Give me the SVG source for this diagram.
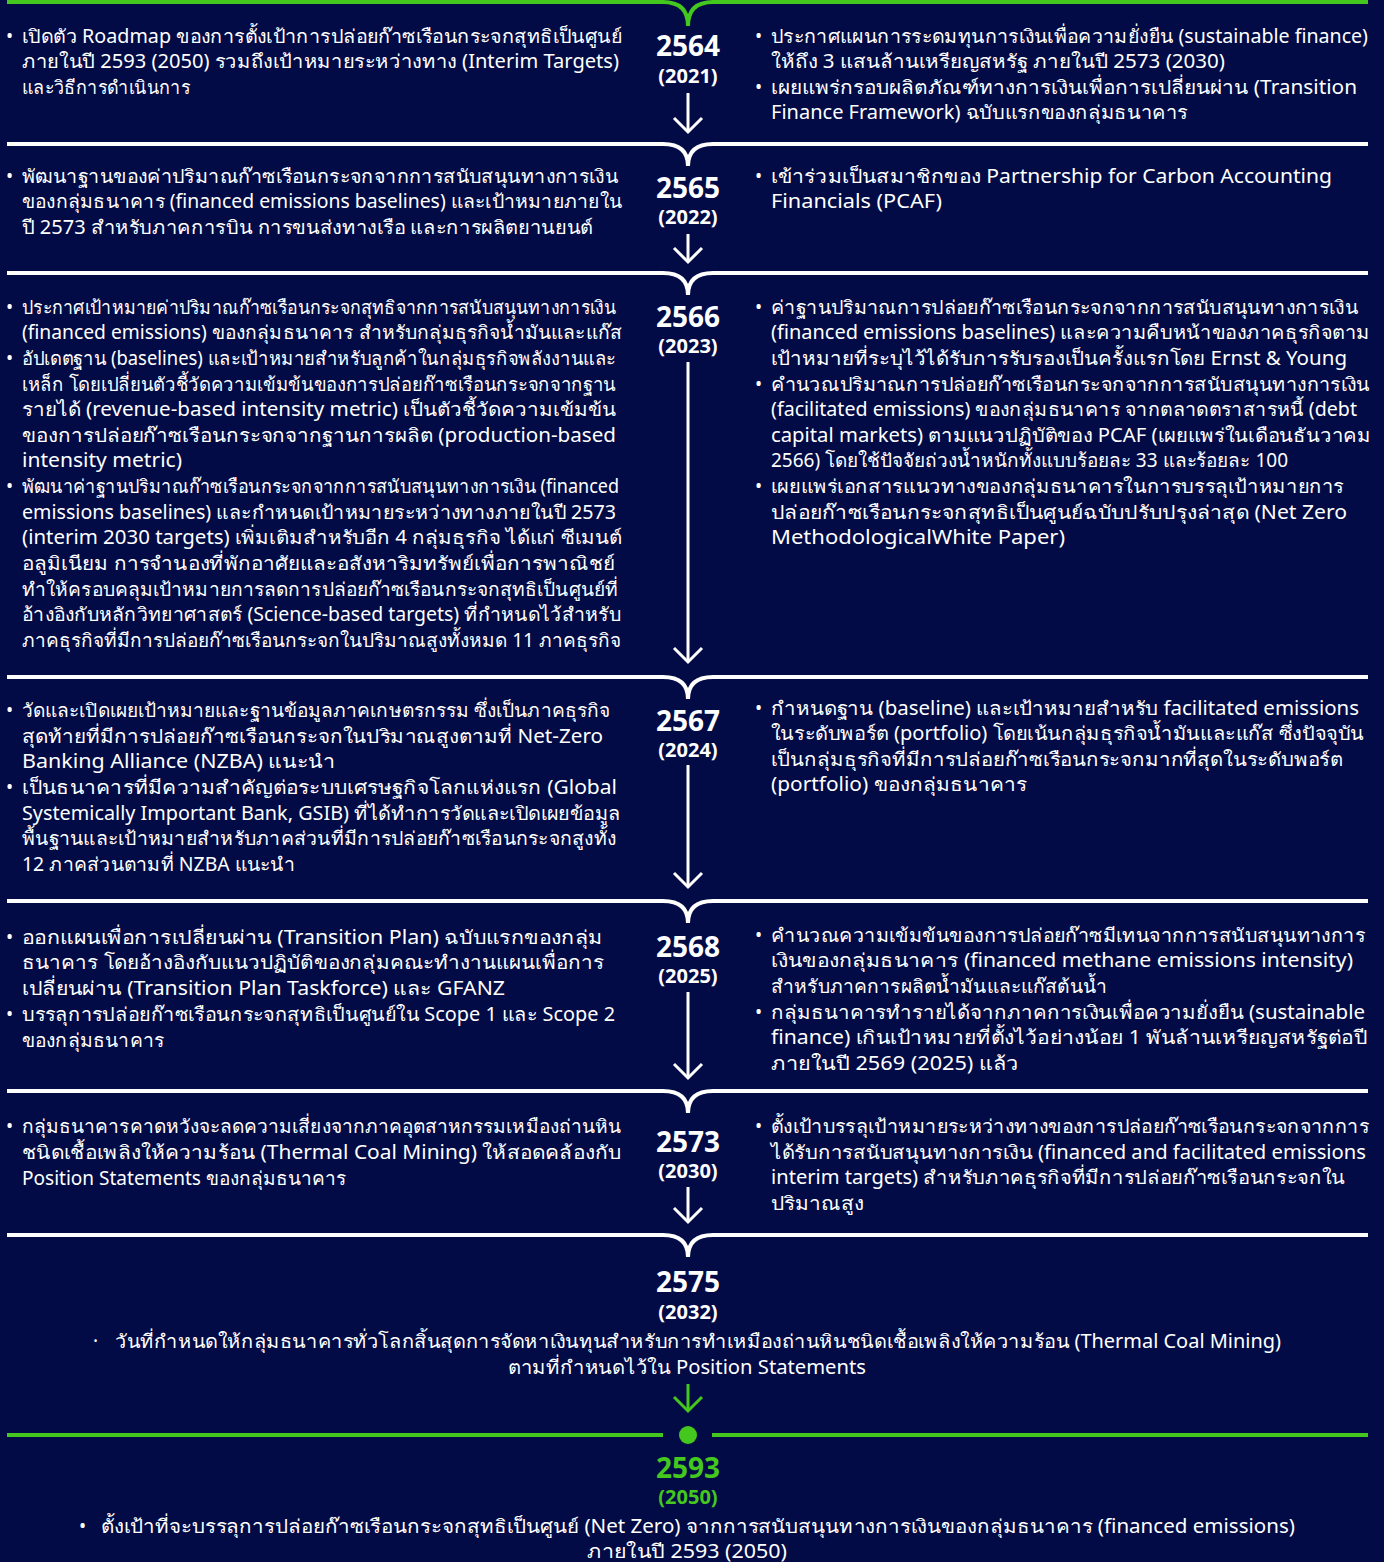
<svg xmlns="http://www.w3.org/2000/svg" width="1384" height="1562" viewBox="0 0 1384 1562">
<defs>
<style>
.t{font-family:"Noto Sans","DejaVu Sans",sans-serif;font-size:19px;fill:#fff}
.c{text-anchor:middle}
.yr{font-family:"Noto Sans","DejaVu Sans",sans-serif;font-weight:bold;font-size:28px;fill:#fff;text-anchor:middle}
.yr2{font-family:"Noto Sans","DejaVu Sans",sans-serif;font-weight:bold;font-size:20px;fill:#fff;text-anchor:middle}
.g{fill:#45c81e}
.dw{fill:none;stroke:#fff;stroke-width:4}
.dg{fill:none;stroke:#45c81e;stroke-width:4}
.aw{fill:none;stroke:#fff;stroke-width:3;marker-end:url(#mw)}
.ag{fill:none;stroke:#45c81e;stroke-width:3;marker-end:url(#mg)}
</style>
<marker id="mw" markerUnits="userSpaceOnUse" markerWidth="32" markerHeight="32" viewBox="0 0 32 32" refX="16" refY="16" orient="auto">
<path d="M2 2 L16 16 L2 30" fill="none" stroke="#fff" stroke-width="3"/>
</marker>
<marker id="mg" markerUnits="userSpaceOnUse" markerWidth="32" markerHeight="32" viewBox="0 0 32 32" refX="16" refY="16" orient="auto">
<path d="M2 2 L16 16 L2 30" fill="none" stroke="#45c81e" stroke-width="3"/>
</marker>
</defs>
<rect width="1384" height="1562" fill="#020b46"/>

<g id="connectors">
<path class="dg" d="M7 2 H663 Q688 2 688 26 Q688 2 713 2 H1368"/>
<path class="dw" d="M7 144 H663 Q688 144 688 166 Q688 144 713 144 H1368"/>
<path class="dw" d="M7 273 H663 Q688 273 688 295 Q688 273 713 273 H1368"/>
<path class="dw" d="M7 677 H663 Q688 677 688 699 Q688 677 713 677 H1368"/>
<path class="dw" d="M7 901 H663 Q688 901 688 923 Q688 901 713 901 H1368"/>
<path class="dw" d="M7 1091 H663 Q688 1091 688 1113 Q688 1091 713 1091 H1368"/>
<path class="dw" d="M7 1235 H663 Q688 1235 688 1257 Q688 1235 713 1235 H1368"/>
<path class="dg" d="M7 1435 H663 M712 1435 H1368"/>
<circle cx="688" cy="1435" r="9" class="g"/>
<path class="aw" d="M688 93 V132"/>
<path class="aw" d="M688 234 V262"/>
<path class="aw" d="M688 362 V662"/>
<path class="aw" d="M688 765 V887"/>
<path class="aw" d="M688 992 V1078"/>
<path class="aw" d="M688 1187 V1222"/>
<path class="ag" d="M688 1384 V1411"/>
</g>

<g id="y2564">
<text class="yr" x="688" y="56">2564</text>
<text class="yr2" x="688" y="83">(2021)</text>
<text class="t" x="6" y="43">•</text>
<text class="t" x="22" y="43" textLength="600" lengthAdjust="spacingAndGlyphs">เปิดตัว Roadmap ของการตั้งเป้าการปล่อยก๊าซเรือนกระจกสุทธิเป็นศูนย์</text>
<text class="t" x="22" y="68" textLength="597" lengthAdjust="spacingAndGlyphs">ภายในปี 2593 (2050) รวมถึงเป้าหมายระหว่างทาง (Interim Targets)</text>
<text class="t" x="22" y="94" textLength="168" lengthAdjust="spacingAndGlyphs">และวิธีการดำเนินการ</text>
<text class="t" x="755" y="43">•</text>
<text class="t" x="771" y="43" textLength="597" lengthAdjust="spacingAndGlyphs">ประกาศแผนการระดมทุนการเงินเพื่อความยั่งยืน (sustainable finance)</text>
<text class="t" x="771" y="68" textLength="454" lengthAdjust="spacingAndGlyphs">ให้ถึง 3 แสนล้านเหรียญสหรัฐ ภายในปี 2573 (2030)</text>
<text class="t" x="755" y="94">•</text>
<text class="t" x="771" y="94" textLength="586" lengthAdjust="spacingAndGlyphs">เผยแพร่กรอบผลิตภัณฑ์ทางการเงินเพื่อการเปลี่ยนผ่าน (Transition</text>
<text class="t" x="771" y="119" textLength="417" lengthAdjust="spacingAndGlyphs">Finance Framework) ฉบับแรกของกลุ่มธนาคาร</text>
</g>

<g id="y2565">
<text class="yr" x="688" y="198">2565</text>
<text class="yr2" x="688" y="224">(2022)</text>
<text class="t" x="6" y="183">•</text>
<text class="t" x="22" y="183" textLength="596" lengthAdjust="spacingAndGlyphs">พัฒนาฐานของค่าปริมาณก๊าซเรือนกระจกจากการสนับสนุนทางการเงิน</text>
<text class="t" x="22" y="208" textLength="600" lengthAdjust="spacingAndGlyphs">ของกลุ่มธนาคาร (financed emissions baselines) และเป้าหมายภายใน</text>
<text class="t" x="22" y="234" textLength="571" lengthAdjust="spacingAndGlyphs">ปี 2573 สำหรับภาคการบิน การขนส่งทางเรือ และการผลิตยานยนต์</text>
<text class="t" x="755" y="183">•</text>
<text class="t" x="771" y="183" textLength="561" lengthAdjust="spacingAndGlyphs">เข้าร่วมเป็นสมาชิกของ Partnership for Carbon Accounting</text>
<text class="t" x="771" y="208" textLength="171" lengthAdjust="spacingAndGlyphs">Financials (PCAF)</text>
</g>

<g id="y2566">
<text class="yr" x="688" y="327">2566</text>
<text class="yr2" x="688" y="353">(2023)</text>
<text class="t" x="6" y="314">•</text>
<text class="t" x="22" y="314" textLength="594" lengthAdjust="spacingAndGlyphs">ประกาศเป้าหมายค่าปริมาณก๊าซเรือนกระจกสุทธิจากการสนับสนุนทางการเงิน</text>
<text class="t" x="22" y="339" textLength="600" lengthAdjust="spacingAndGlyphs">(financed emissions) ของกลุ่มธนาคาร สำหรับกลุ่มธุรกิจน้ำมันและแก๊ส</text>
<text class="t" x="6" y="365">•</text>
<text class="t" x="22" y="365" textLength="594" lengthAdjust="spacingAndGlyphs">อัปเดตฐาน (baselines) และเป้าหมายสำหรับลูกค้าในกลุ่มธุรกิจพลังงานและ</text>
<text class="t" x="22" y="391" textLength="594" lengthAdjust="spacingAndGlyphs">เหล็ก โดยเปลี่ยนตัวชี้วัดความเข้มข้นของการปล่อยก๊าซเรือนกระจกจากฐาน</text>
<text class="t" x="22" y="416" textLength="594" lengthAdjust="spacingAndGlyphs">รายได้ (revenue-based intensity metric) เป็นตัวชี้วัดความเข้มข้น</text>
<text class="t" x="22" y="442" textLength="594" lengthAdjust="spacingAndGlyphs">ของการปล่อยก๊าซเรือนกระจกจากฐานการผลิต (production-based</text>
<text class="t" x="22" y="467" textLength="160" lengthAdjust="spacingAndGlyphs">intensity metric)</text>
<text class="t" x="6" y="493">•</text>
<text class="t" x="22" y="493" textLength="597" lengthAdjust="spacingAndGlyphs">พัฒนาค่าฐานปริมาณก๊าซเรือนกระจกจากการสนับสนุนทางการเงิน (financed</text>
<text class="t" x="22" y="519" textLength="594" lengthAdjust="spacingAndGlyphs">emissions baselines) และกำหนดเป้าหมายระหว่างทางภายในปี 2573</text>
<text class="t" x="22" y="544" textLength="600" lengthAdjust="spacingAndGlyphs">(interim 2030 targets) เพิ่มเติมสำหรับอีก 4 กลุ่มธุรกิจ ได้แก่ ซีเมนต์</text>
<text class="t" x="22" y="570" textLength="593" lengthAdjust="spacingAndGlyphs">อลูมิเนียม การจำนองที่พักอาศัยและอสังหาริมทรัพย์เพื่อการพาณิชย์</text>
<text class="t" x="22" y="596" textLength="596" lengthAdjust="spacingAndGlyphs">ทำให้ครอบคลุมเป้าหมายการลดการปล่อยก๊าซเรือนกระจกสุทธิเป็นศูนย์ที่</text>
<text class="t" x="22" y="621" textLength="599" lengthAdjust="spacingAndGlyphs">อ้างอิงกับหลักวิทยาศาสตร์ (Science-based targets) ที่กำหนดไว้สำหรับ</text>
<text class="t" x="22" y="647" textLength="599" lengthAdjust="spacingAndGlyphs">ภาคธุรกิจที่มีการปล่อยก๊าซเรือนกระจกในปริมาณสูงทั้งหมด 11 ภาคธุรกิจ</text>
<text class="t" x="755" y="314">•</text>
<text class="t" x="771" y="314" textLength="587" lengthAdjust="spacingAndGlyphs">ค่าฐานปริมาณการปล่อยก๊าซเรือนกระจกจากการสนับสนุนทางการเงิน</text>
<text class="t" x="771" y="339" textLength="599" lengthAdjust="spacingAndGlyphs">(financed emissions baselines) และความคืบหน้าของภาคธุรกิจตาม</text>
<text class="t" x="771" y="365" textLength="576" lengthAdjust="spacingAndGlyphs">เป้าหมายที่ระบุไว้ได้รับการรับรองเป็นครั้งแรกโดย Ernst &amp; Young</text>
<text class="t" x="755" y="391">•</text>
<text class="t" x="771" y="391" textLength="599" lengthAdjust="spacingAndGlyphs">คำนวณปริมาณการปล่อยก๊าซเรือนกระจกจากการสนับสนุนทางการเงิน</text>
<text class="t" x="771" y="416" textLength="586" lengthAdjust="spacingAndGlyphs">(facilitated emissions) ของกลุ่มธนาคาร จากตลาดตราสารหนี้ (debt</text>
<text class="t" x="771" y="442" textLength="600" lengthAdjust="spacingAndGlyphs">capital markets) ตามแนวปฏิบัติของ PCAF (เผยแพร่ในเดือนธันวาคม</text>
<text class="t" x="771" y="467" textLength="517" lengthAdjust="spacingAndGlyphs">2566) โดยใช้ปัจจัยถ่วงน้ำหนักทั้งแบบร้อยละ 33 และร้อยละ 100</text>
<text class="t" x="755" y="493">•</text>
<text class="t" x="771" y="493" textLength="573" lengthAdjust="spacingAndGlyphs">เผยแพร่เอกสารแนวทางของกลุ่มธนาคารในการบรรลุเป้าหมายการ</text>
<text class="t" x="771" y="519" textLength="576" lengthAdjust="spacingAndGlyphs">ปล่อยก๊าซเรือนกระจกสุทธิเป็นศูนย์ฉบับปรับปรุงล่าสุด (Net Zero</text>
<text class="t" x="771" y="544" textLength="294" lengthAdjust="spacingAndGlyphs">MethodologicalWhite Paper)</text>
</g>

<g id="y2567">
<text class="yr" x="688" y="731">2567</text>
<text class="yr2" x="688" y="757">(2024)</text>
<text class="t" x="6" y="717">•</text>
<text class="t" x="22" y="717" textLength="588" lengthAdjust="spacingAndGlyphs">วัดและเปิดเผยเป้าหมายและฐานข้อมูลภาคเกษตรกรรม ซึ่งเป็นภาคธุรกิจ</text>
<text class="t" x="22" y="743" textLength="581" lengthAdjust="spacingAndGlyphs">สุดท้ายที่มีการปล่อยก๊าซเรือนกระจกในปริมาณสูงตามที่ Net-Zero</text>
<text class="t" x="22" y="768" textLength="313" lengthAdjust="spacingAndGlyphs">Banking Alliance (NZBA) แนะนำ</text>
<text class="t" x="6" y="794">•</text>
<text class="t" x="22" y="794" textLength="595" lengthAdjust="spacingAndGlyphs">เป็นธนาคารที่มีความสำคัญต่อระบบเศรษฐกิจโลกแห่งแรก (Global</text>
<text class="t" x="22" y="820" textLength="599" lengthAdjust="spacingAndGlyphs">Systemically Important Bank, GSIB) ที่ได้ทำการวัดและเปิดเผยข้อมูล</text>
<text class="t" x="22" y="845" textLength="594" lengthAdjust="spacingAndGlyphs">พื้นฐานและเป้าหมายสำหรับภาคส่วนที่มีการปล่อยก๊าซเรือนกระจกสูงทั้ง</text>
<text class="t" x="22" y="871" textLength="273" lengthAdjust="spacingAndGlyphs">12 ภาคส่วนตามที่ NZBA แนะนำ</text>
<text class="t" x="755" y="715">•</text>
<text class="t" x="771" y="715" textLength="588" lengthAdjust="spacingAndGlyphs">กำหนดฐาน (baseline) และเป้าหมายสำหรับ facilitated emissions</text>
<text class="t" x="771" y="740" textLength="593" lengthAdjust="spacingAndGlyphs">ในระดับพอร์ต (portfolio) โดยเน้นกลุ่มธุรกิจน้ำมันและแก๊ส ซึ่งปัจจุบัน</text>
<text class="t" x="771" y="766" textLength="572" lengthAdjust="spacingAndGlyphs">เป็นกลุ่มธุรกิจที่มีการปล่อยก๊าซเรือนกระจกมากที่สุดในระดับพอร์ต</text>
<text class="t" x="771" y="791" textLength="256" lengthAdjust="spacingAndGlyphs">(portfolio) ของกลุ่มธนาคาร</text>
</g>

<g id="y2568">
<text class="yr" x="688" y="957">2568</text>
<text class="yr2" x="688" y="983">(2025)</text>
<text class="t" x="6" y="944">•</text>
<text class="t" x="22" y="944" textLength="581" lengthAdjust="spacingAndGlyphs">ออกแผนเพื่อการเปลี่ยนผ่าน (Transition Plan) ฉบับแรกของกลุ่ม</text>
<text class="t" x="22" y="969" textLength="582" lengthAdjust="spacingAndGlyphs">ธนาคาร โดยอ้างอิงกับแนวปฏิบัติของกลุ่มคณะทำงานแผนเพื่อการ</text>
<text class="t" x="22" y="995" textLength="483" lengthAdjust="spacingAndGlyphs">เปลี่ยนผ่าน (Transition Plan Taskforce) และ GFANZ</text>
<text class="t" x="6" y="1021">•</text>
<text class="t" x="22" y="1021" textLength="593" lengthAdjust="spacingAndGlyphs">บรรลุการปล่อยก๊าซเรือนกระจกสุทธิเป็นศูนย์ใน Scope 1 และ Scope 2</text>
<text class="t" x="22" y="1047" textLength="142" lengthAdjust="spacingAndGlyphs">ของกลุ่มธนาคาร</text>
<text class="t" x="755" y="942">•</text>
<text class="t" x="771" y="942" textLength="594" lengthAdjust="spacingAndGlyphs">คำนวณความเข้มข้นของการปล่อยก๊าซมีเทนจากการสนับสนุนทางการ</text>
<text class="t" x="771" y="967" textLength="582" lengthAdjust="spacingAndGlyphs">เงินของกลุ่มธนาคาร (financed methane emissions intensity)</text>
<text class="t" x="771" y="993" textLength="336" lengthAdjust="spacingAndGlyphs">สำหรับภาคการผลิตน้ำมันและแก๊สต้นน้ำ</text>
<text class="t" x="755" y="1019">•</text>
<text class="t" x="771" y="1019" textLength="594" lengthAdjust="spacingAndGlyphs">กลุ่มธนาคารทำรายได้จากภาคการเงินเพื่อความยั่งยืน (sustainable</text>
<text class="t" x="771" y="1044" textLength="596" lengthAdjust="spacingAndGlyphs">finance) เกินเป้าหมายที่ตั้งไว้อย่างน้อย 1 พันล้านเหรียญสหรัฐต่อปี</text>
<text class="t" x="771" y="1070" textLength="248" lengthAdjust="spacingAndGlyphs">ภายในปี 2569 (2025) แล้ว</text>
</g>

<g id="y2573">
<text class="yr" x="688" y="1152">2573</text>
<text class="yr2" x="688" y="1178">(2030)</text>
<text class="t" x="6" y="1133">•</text>
<text class="t" x="22" y="1133" textLength="599" lengthAdjust="spacingAndGlyphs">กลุ่มธนาคารคาดหวังจะลดความเสี่ยงจากภาคอุตสาหกรรมเหมืองถ่านหิน</text>
<text class="t" x="22" y="1159" textLength="599" lengthAdjust="spacingAndGlyphs">ชนิดเชื้อเพลิงให้ความร้อน (Thermal Coal Mining) ให้สอดคล้องกับ</text>
<text class="t" x="22" y="1185" textLength="324" lengthAdjust="spacingAndGlyphs">Position Statements ของกลุ่มธนาคาร</text>
<text class="t" x="755" y="1133">•</text>
<text class="t" x="771" y="1133" textLength="598" lengthAdjust="spacingAndGlyphs">ตั้งเป้าบรรลุเป้าหมายระหว่างทางของการปล่อยก๊าซเรือนกระจกจากการ</text>
<text class="t" x="771" y="1159" textLength="595" lengthAdjust="spacingAndGlyphs">ได้รับการสนับสนุนทางการเงิน (financed and facilitated emissions</text>
<text class="t" x="771" y="1184" textLength="574" lengthAdjust="spacingAndGlyphs">interim targets) สำหรับภาคธุรกิจที่มีการปล่อยก๊าซเรือนกระจกใน</text>
<text class="t" x="771" y="1210" textLength="93" lengthAdjust="spacingAndGlyphs">ปริมาณสูง</text>
</g>

<g id="y2575">
<text class="yr" x="688" y="1292">2575</text>
<text class="yr2" x="688" y="1319">(2032)</text>
<text class="t" x="93" y="1348">·</text>
<text class="t" x="115" y="1348" textLength="1166" lengthAdjust="spacingAndGlyphs">วันที่กำหนดให้กลุ่มธนาคารทั่วโลกสิ้นสุดการจัดหาเงินทุนสำหรับการทำเหมืองถ่านหินชนิดเชื้อเพลิงให้ความร้อน (Thermal Coal Mining)</text>
<text class="t" x="508" y="1374" textLength="358" lengthAdjust="spacingAndGlyphs">ตามที่กำหนดไว้ใน Position Statements</text>
</g>

<g id="y2593">
<text class="yr" x="688" y="1478" style="fill:#45c81e">2593</text>
<text class="yr2" x="688" y="1504" style="fill:#45c81e">(2050)</text>
<text class="t" x="79" y="1533">•</text>
<text class="t" x="101" y="1533" textLength="1194" lengthAdjust="spacingAndGlyphs">ตั้งเป้าที่จะบรรลุการปล่อยก๊าซเรือนกระจกสุทธิเป็นศูนย์ (Net Zero) จากการสนับสนุนทางการเงินของกลุ่มธนาคาร (financed emissions)</text>
<text class="t" x="587" y="1558" textLength="200" lengthAdjust="spacingAndGlyphs">ภายในปี 2593 (2050)</text>
</g>
</svg>
